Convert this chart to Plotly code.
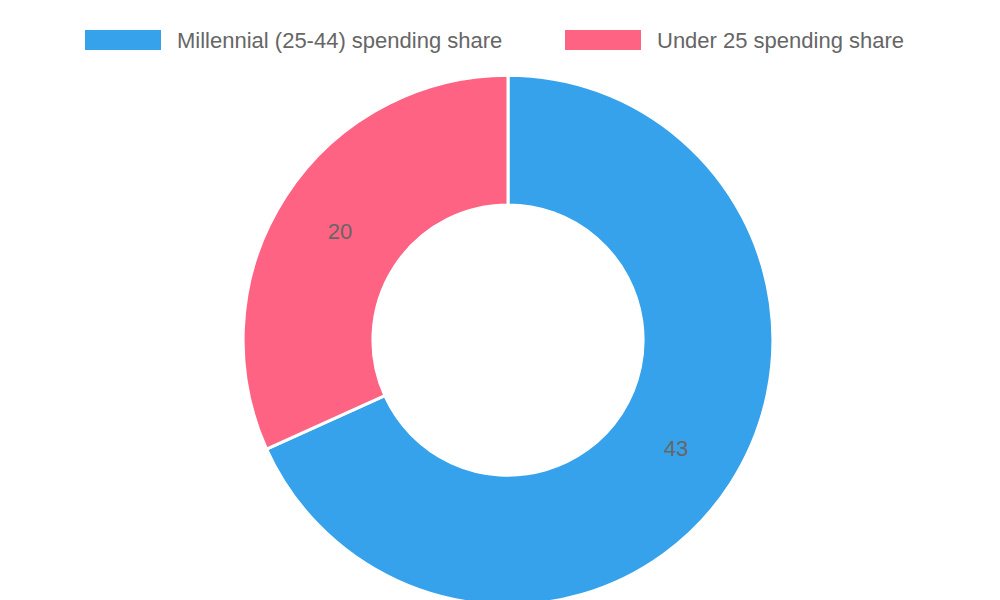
import plotly.graph_objects as go

labels = ["Millennial (25-44) spending share", "Under 25 spending share"]
values = [43, 20]
colors = ["#36A2EB", "#FF6384"]

fig = go.Figure(go.Pie(
    labels=labels, values=values, hole=0.51, sort=False, direction="clockwise",
    rotation=0, marker=dict(colors=colors, line=dict(color="white", width=3)),
    textinfo="value", textposition="inside", insidetextorientation="horizontal",
    textfont=dict(color="#666666", size=22, family="Liberation Sans, Arial"),
    showlegend=False, domain=dict(x=[0, 1], y=[0.005, 0.888]), hoverinfo="label+value",
))

# custom legend (wide swatches like the reference)
shapes, annotations = [], []
xs = [77, 557]
for x0, lab, col in zip(xs, labels, colors):
    shapes.append(dict(type="rect", xref="paper", yref="paper",
                       x0=x0/1000, x1=(x0+76)/1000, y0=1-42/600, y1=1-22/600,
                       fillcolor=col, line=dict(width=0)))
    annotations.append(dict(text=lab, xref="paper", yref="paper", x=(x0+90)/1000, y=1-32/600,
                            xanchor="left", yanchor="middle", showarrow=False,
                            font=dict(size=22, color="#666666", family="Liberation Sans, Arial")))

fig.update_layout(width=1000, height=600, margin=dict(l=0, r=0, t=0, b=0),
                  paper_bgcolor="white", shapes=shapes, annotations=annotations)
fig.write_html("out.html")
